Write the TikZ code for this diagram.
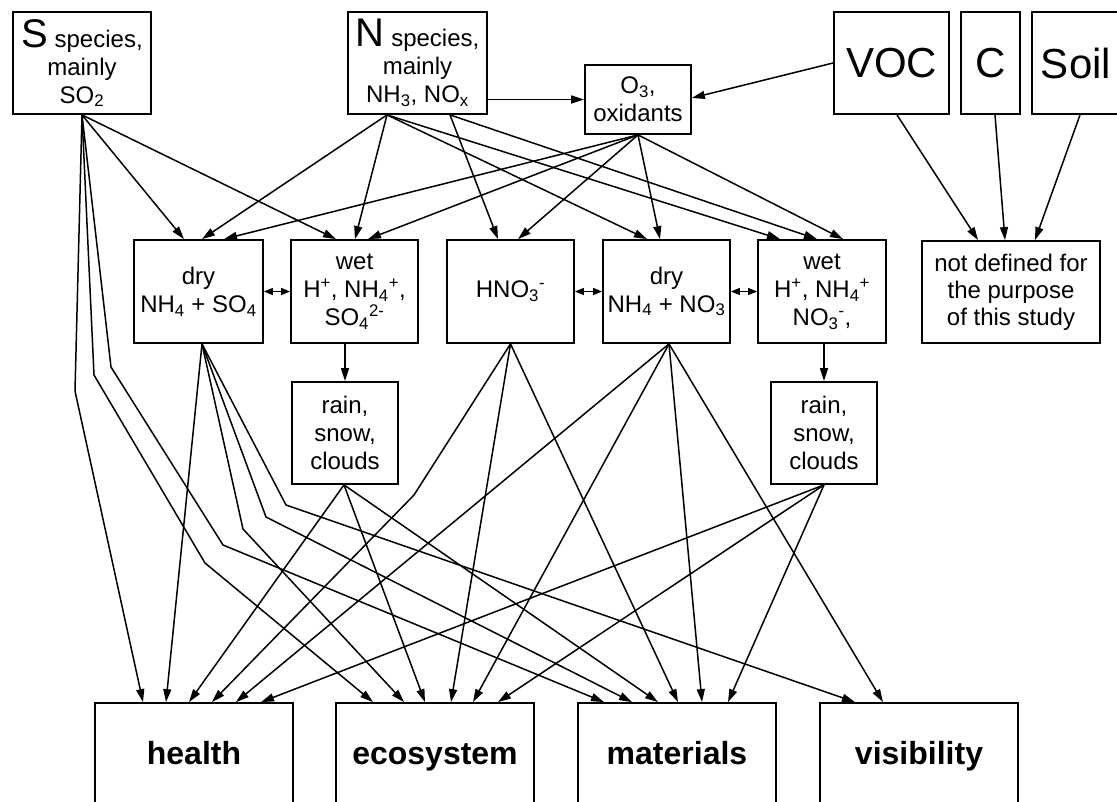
\documentclass[tikz,border=0pt]{standalone}
\usepackage{fontspec}
\setmainfont{Liberation Sans}
\usetikzlibrary{arrows.meta,calc}
\begin{document}
\begin{tikzpicture}[x=1pt,y=-1pt,
  box/.style={draw,line width=1.8pt,inner sep=0pt,align=center,font=\fontsize{24}{28}\selectfont},
  big/.style={box,font=\fontsize{42}{46}\selectfont},
  bottom/.style={box,minimum width=198pt,minimum height=103pt,text height=23pt,text depth=3pt,font=\fontsize{32}{36}\selectfont\bfseries},
  mid/.style={box,minimum width=128pt,minimum height=103pt},
  rainbox/.style={box,minimum width=106pt,minimum height=102pt},
  conn/.style={line width=1.5pt,-{Triangle[length=13pt,width=8pt]}},
  dbl/.style={line width=1.5pt,{Triangle[length=9pt,width=7pt]}-{Triangle[length=9pt,width=7pt]}},
]
\useasboundingbox (0,0) rectangle (1117,801);
\clip (0,0) rectangle (1117,801);
\fill[white] (0,0) rectangle (1117,801);

% top row
\node[box,minimum width=138pt,minimum height=102pt] (S) at (82,63)
  {{\fontsize{40}{40}\selectfont S} species,\\mainly\\SO\textsubscript{2}};
\node[box,minimum width=139pt,minimum height=102pt] (N) at (417.5,63)
  {{\fontsize{40}{40}\selectfont N} species,\\mainly\\NH\textsubscript{3}, NO\textsubscript{x}};
\node[box,minimum width=106pt,minimum height=69pt] (O3) at (638,99.5)
  {O\textsubscript{3},\\oxidants};
\node[big,minimum width=115pt,minimum height=102pt] (VOC) at (891.5,63) {VOC};
\node[big,minimum width=59pt,minimum height=102pt] (C) at (990.5,63) {C};
\node[big,minimum width=88pt,minimum height=102pt] (Soil) at (1076,63) {Soil};

% middle row
\node[mid,minimum width=129pt] (dry) at (198.5,291.5) {dry\\NH\textsubscript{4} + SO\textsubscript{4}};
\node[mid,minimum width=127pt] (wet) at (354.5,291.5) {wet\\H\textsuperscript{+}, NH\textsubscript{4}\textsuperscript{+},\\SO\textsubscript{4}\textsuperscript{2-}};
\node[mid,minimum width=127pt] (hno) at (510.5,291.5) {HNO\textsubscript{3}\textsuperscript{-}};
\node[mid,minimum width=127pt] (dry2) at (666.5,291.5) {dry\\NH\textsubscript{4} + NO\textsubscript{3}};
\node[mid,minimum width=128pt] (wet2) at (822,291.5) {wet\\H\textsuperscript{+}, NH\textsubscript{4}\textsuperscript{+}\\NO\textsubscript{3}\textsuperscript{-},};
\node[box,minimum width=178pt,minimum height=102pt,font=\fontsize{24}{27}\selectfont] (nd) at (1011,292) {not defined for\\the purpose\\of this study};

% rain boxes
\node[rainbox] (rain1) at (345,433) {rain,\\snow,\\clouds};
\node[rainbox] (rain2) at (824,433) {rain,\\snow,\\clouds};

% bottom row
\node[bottom] (health) at (194,754.5) {health};
\node[bottom] (eco) at (435,754.5) {ecosystem};
\node[bottom] (mat) at (677,754.5) {materials};
\node[bottom] (vis) at (919,754.5) {visibility};

% kink coordinates
\coordinate (ka) at (75,391);
\coordinate (kb1) at (94,375);
\coordinate (kb2) at (205,563);
\coordinate (kc1) at (111,367);
\coordinate (kc2) at (223,545);
\coordinate (kd1) at (243,529);
\coordinate (kd2) at (266,517);
\coordinate (kd3) at (286,505);
\coordinate (kh) at (414,495);

% top connectors
\draw[conn] (N.east |- O3.west) -- (O3.west);
\draw[conn] (VOC.west) -- ([yshift=1.5pt]O3.east);
\draw[conn] ([xshift=5.5pt]VOC.south) -- ([xshift=-33pt]nd.north);
\draw[conn] ([xshift=4.5pt]C.south) -- ([xshift=-6pt]nd.north);
\draw[conn] ([xshift=4pt]Soil.south) -- ([xshift=24pt]nd.north);

\draw[conn] (S.south) -- ([xshift=-14.5pt]dry.north);
\draw[conn] (S.south) -- ([xshift=-18.5pt]wet.north);
\draw[conn] ([xshift=-30.5pt]N.south) -- ([xshift=3.5pt]dry.north);
\draw[conn] ([xshift=-30.5pt]N.south) -- ([xshift=0.5pt]wet.north);
\draw[conn] ([xshift=-30.5pt]N.south) -- ([xshift=-19.5pt]dry2.north);
\draw[conn] ([xshift=-30.5pt]N.south) -- ([xshift=-42pt]wet2.north);
\draw[conn] ([xshift=32.5pt]N.south) -- ([xshift=-12.5pt]hno.north);
\draw[conn] ([xshift=32.5pt]N.south) -- ([xshift=-5pt]wet2.north);
\draw[conn] (O3.south) -- ([xshift=25.5pt]dry.north);
\draw[conn] (O3.south) -- ([xshift=13.5pt]wet.north);
\draw[conn] (O3.south) -- ([xshift=7.5pt]hno.north);
\draw[conn] (O3.south) -- ([xshift=-6.5pt]dry2.north);
\draw[conn] (O3.south) -- ([xshift=21pt]wet2.north);

% double arrows
\draw[dbl] (dry.east) -- (wet.west);
\draw[dbl] (hno.east) -- (dry2.west);
\draw[dbl] (dry2.east) -- (wet2.west);

% wet to rain
\draw[conn] (rain1.north |- wet.south) -- (rain1.north);
\draw[conn] (rain2.north |- wet2.south) -- (rain2.north);

% S lines to bottom
\draw[conn] (S.south) -- (ka) -- ([xshift=-51pt]health.north);
\draw[conn] (S.south) -- (kb1) -- (kb2) -- ([xshift=-62pt]eco.north);
\draw[conn] (S.south) -- (kc1) -- (kc2) -- ([xshift=-73pt]mat.north);

% dry lines
\draw[conn] ([xshift=3.5pt]dry.south) -- ([xshift=-28pt]health.north);
\draw[conn] ([xshift=3.5pt]dry.south) -- (kd1) -- ([xshift=-31pt]eco.north);
\draw[conn] ([xshift=3.5pt]dry.south) -- (kd2) -- ([xshift=-45pt]mat.north);
\draw[conn] ([xshift=3.5pt]dry.south) -- (kd3) -- ([xshift=-64pt]vis.north);

% rain1 lines
\draw[conn] ([xshift=-1pt]rain1.south) -- ([xshift=-5pt]health.north);
\draw[conn] ([xshift=-1pt]rain1.south) -- ([xshift=-10pt]eco.north);
\draw[conn] ([xshift=-1pt]rain1.south) -- ([xshift=-19pt]mat.north);

% HNO3 lines
\draw[conn] (hno.south) -- (kh) -- ([xshift=18pt]health.north);
\draw[conn] (hno.south) -- ([xshift=16pt]eco.north);
\draw[conn] (hno.south) -- ([xshift=1pt]mat.north);

% dry2 lines
\draw[conn] ([xshift=2.5pt]dry2.south) -- ([xshift=42pt]health.north);
\draw[conn] ([xshift=2.5pt]dry2.south) -- ([xshift=38pt]eco.north);
\draw[conn] ([xshift=2.5pt]dry2.south) -- ([xshift=25pt]mat.north);
\draw[conn] ([xshift=2.5pt]dry2.south) -- ([xshift=-36pt]vis.north);

% rain2 lines
\draw[conn] (rain2.south) -- ([xshift=67pt]health.north);
\draw[conn] (rain2.south) -- ([xshift=63pt]eco.north);
\draw[conn] (rain2.south) -- ([xshift=51pt]mat.north);
\end{tikzpicture}
\end{document}
